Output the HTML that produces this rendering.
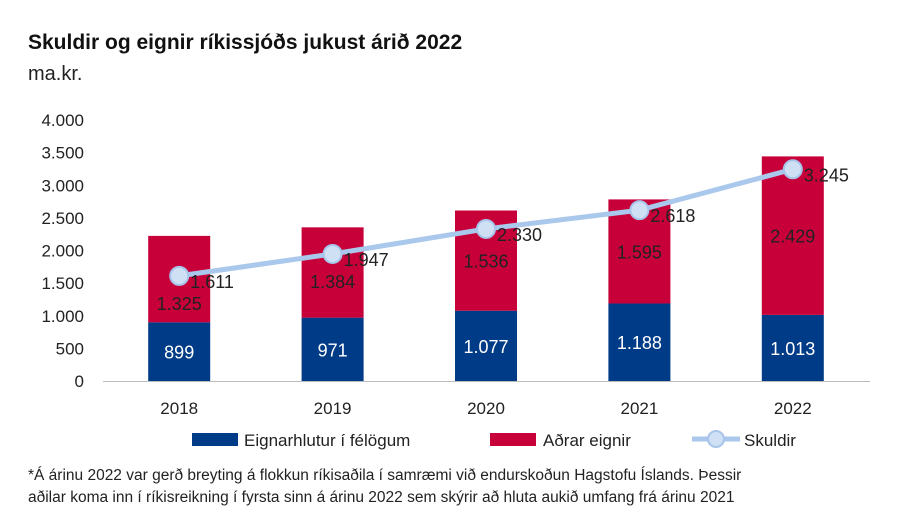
<!DOCTYPE html>
<html><head><meta charset="utf-8"><style>
body{margin:0;background:#fff;width:900px;height:520px;overflow:hidden;font-family:"Liberation Sans","DejaVu Sans",sans-serif}
svg text{font-family:"Liberation Sans","DejaVu Sans",sans-serif}
</style></head><body>
<svg id="chart" width="900" height="520">
<text x="28" y="49" font-size="21" font-weight="bold" fill="#111">Skuldir og eignir ríkissjóðs jukust árið 2022</text>
<text x="28" y="80" font-size="20" fill="#222">ma.kr.</text>
<g id="plot"></g>
<g>
<rect x="192" y="433" width="46" height="13" fill="#003b87"/>
<text x="244" y="446" font-size="17" fill="#222">Eignarhlutur í félögum</text>
<rect x="490" y="433" width="46" height="13" fill="#c8003a"/>
<text x="543" y="446" font-size="17" fill="#222">Aðrar eignir</text>
<line x1="692" y1="439" x2="740" y2="439" stroke="#a9c8ec" stroke-width="5"/>
<circle cx="716" cy="439" r="8" fill="#cfe0f5" stroke="#a7c5ea" stroke-width="2"/>
<text x="744" y="446" font-size="17" fill="#222">Skuldir</text>
</g>
<text x="28" y="480" font-size="15.5" fill="#222">*Á árinu 2022 var gerð breyting á flokkun ríkisaðila í samræmi við endurskoðun Hagstofu Íslands. Þessir</text>
<text x="28" y="502" font-size="15.5" fill="#222">aðilar koma inn í ríkisreikning í fyrsta sinn á árinu 2022 sem skýrir að hluta aukið umfang frá árinu 2021</text>
</svg>
<script>
const years=["2018","2019","2020","2021","2022"];
const eignarhlutur=[899,971,1077,1188,1013];
const adrarEignir=[1325,1384,1536,1595,2429];
const skuldir=[1611,1947,2330,2618,3245];
const yTicks=[0,500,1000,1500,2000,2500,3000,3500,4000];
const yTickLabels=["0","500","1.000","1.500","2.000","2.500","3.000","3.500","4.000"];
const fmt=v=>{const s=String(v);return s.length>3?s.slice(0,-3)+"."+s.slice(-3):s;};
const NS="http://www.w3.org/2000/svg";
const g=document.getElementById("plot");
const x0=103,x1=870,yBase=381,yTop=120,yMax=4000;
const y=v=>yBase-(v/yMax)*(yBase-yTop);
const step=(x1-x0)/years.length;
const xc=i=>x0+step*(i+0.5)-0.5;
const bw=62;
function mk(t,a,txt){const e=document.createElementNS(NS,t);for(const k in a)e.setAttribute(k,a[k]);if(txt!==undefined)e.textContent=txt;g.appendChild(e);return e;}
yTicks.forEach((v,i)=>{
 const t=mk("text",{x:84,y:y(v)+6,"font-size":17,fill:"#222","text-anchor":"end"},yTickLabels[i]);
 
 
});
const ax=mk("line",{x1:x0,y1:yBase+0.5,x2:x1,y2:yBase+0.5,stroke:"#bbb","stroke-width":1});


years.forEach((yr,i)=>{
 const cx=xc(i);
 const b=eignarhlutur[i],r=adrarEignir[i];
 const rb=mk("rect",{x:cx-bw/2,y:y(b),width:bw,height:yBase-y(b),fill:"#003b87"});
 
 
 const rr=mk("rect",{x:cx-bw/2,y:y(b+r),width:bw,height:y(b)-y(b+r),fill:"#c8003a"});
 
 
 const lb=mk("text",{x:cx,y:(y(b)+yBase)/2+7,"font-size":18,fill:"#fff","text-anchor":"middle"},fmt(b));
 
 
 let ry=(y(b)+y(b+r))/2+7;
 const sy=y(skuldir[i]);
 if(Math.abs(ry-7-sy)<22) ry=sy+34;
 const lr=mk("text",{x:cx,y:ry,"font-size":18,fill:"#222","text-anchor":"middle"},fmt(r));
 
 
 const xl=mk("text",{x:cx,y:414,"font-size":17,fill:"#222","text-anchor":"middle"},yr);
 
 
});
const pts=skuldir.map((v,i)=>xc(i)+","+y(v)).join(" ");
const pl=mk("polyline",{points:pts,fill:"none",stroke:"#a9c8ec","stroke-width":5});


skuldir.forEach((v,i)=>{
 const c=mk("circle",{cx:xc(i),cy:y(v),r:9,fill:"#cfe0f5",stroke:"#a7c5ea","stroke-width":2});
 
 
 const t=mk("text",{x:xc(i)+11,y:y(v)+12,"font-size":18,fill:"#222"},fmt(v));
 
 
});
</script>
</body></html>
